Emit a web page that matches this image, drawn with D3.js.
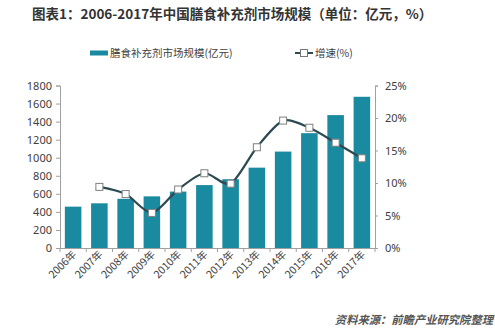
<!DOCTYPE html>
<html><head><meta charset="utf-8">
<script src="https://cdn.jsdelivr.net/npm/d3@7"></script>
<style>
body{margin:0;background:#fff;}
svg{display:block;font-family:"Noto Sans CJK SC","Noto Sans",sans-serif;}
</style></head>
<body>
<svg id="c" width="495" height="335"></svg>
<script>
const years = ["2006年","2007年","2008年","2009年","2010年","2011年","2012年","2013年","2014年","2015年","2016年","2017年"];
const marketSize = [458, 495, 545, 572, 625, 697, 762, 890, 1068, 1272, 1472, 1675];
const growth = [null, 9.4, 8.3, 5.4, 9.0, 11.5, 9.9, 15.5, 19.6, 18.5, 16.2, 13.8];
const leftTicks = [0,200,400,600,800,1000,1200,1400,1600,1800];
const rightTicks = [0,5,10,15,20,25];
const titleText = "图表1：2006-2017年中国膳食补充剂市场规模（单位：亿元，%）";
const sourceText = "资料来源：前瞻产业研究院整理";
const legendBar = "膳食补充剂市场规模(亿元)";
const legendLine = "增速(%)";

const svg = d3.select("#c");
const L = 60, R = 375, T = 85.5, B = 248;
const barColor = "#1a8aa0", lineColor = "#2b4a52", axisColor = "#a0a0a0", textColor = "#404040";

const x = d3.scaleBand().domain(years).range([L, R]).paddingInner(0.37).paddingOuter(0.185);
const yL = d3.scaleLinear().domain([0,1800]).range([B, T]);
const yR = d3.scaleLinear().domain([0,25]).range([B, T]);

// title
svg.append("text").attr("x", 32).attr("y", 19).attr("font-size", 13.5).attr("font-weight", "bold")
  .attr("fill", "#333").text(titleText);

// legend
svg.append("rect").attr("x", 90).attr("y", 50.5).attr("width", 18).attr("height", 5).attr("fill", barColor);
svg.append("text").attr("x", 110).attr("y", 57).attr("font-size", 10.5).attr("fill", textColor).text(legendBar);
svg.append("line").attr("x1", 295).attr("x2", 313).attr("y1", 53).attr("y2", 53).attr("stroke", lineColor).attr("stroke-width", 2);
svg.append("rect").attr("x", 300.5).attr("y", 49.5).attr("width", 7).attr("height", 7).attr("fill", "#fff").attr("stroke", "#777");
svg.append("text").attr("x", 315).attr("y", 57).attr("font-size", 10.5).attr("fill", textColor).text(legendLine);

// bars
svg.append("g").selectAll("rect").data(marketSize).join("rect")
  .attr("x", (d,i) => x(years[i])).attr("width", x.bandwidth())
  .attr("y", d => yL(d)).attr("height", d => B - yL(d)).attr("fill", barColor);

// left axis
const gL = svg.append("g").attr("transform", `translate(${L},0)`)
  .call(d3.axisLeft(yL).tickValues(leftTicks).tickSize(4).tickPadding(4).tickFormat(d3.format("d")));
// right axis
const gR = svg.append("g").attr("transform", `translate(${R},0)`)
  .call(d3.axisRight(yR).tickValues(rightTicks).tickSize(3).tickPadding(7).tickFormat(d => d + "%"));
// bottom axis
const gB = svg.append("g").attr("transform", `translate(0,${B})`)
  .call(d3.axisBottom(x).tickSize(0).tickFormat(""));
// boundary ticks on bottom
svg.append("g").selectAll("line").data(d3.range(years.length + 1)).join("line")
  .attr("x1", i => L + i * (R - L) / years.length)
  .attr("x2", i => L + i * (R - L) / years.length)
  .attr("y1", B).attr("y2", B + 4).attr("stroke", axisColor);

[gL, gR, gB].forEach(g => {
  g.select(".domain").attr("stroke", axisColor);
  g.selectAll(".tick line").attr("stroke", axisColor);
  g.selectAll(".tick text").attr("fill", textColor).attr("font-size", 11)
    .attr("font-family", "'Noto Sans','Noto Sans CJK SC',sans-serif");
});

// x labels
svg.append("g").selectAll("text").data(years).join("text")
  .attr("transform", d => `translate(${x(d) + x.bandwidth()/2 + 4},${B + 7}) rotate(-45)`)
  .attr("text-anchor", "end").attr("font-size", 10.5).attr("fill", textColor).text(d => d);

// line
const pts = growth.map((g,i) => g == null ? null : [x(years[i]) + x.bandwidth()/2, yR(g)]).filter(p => p);
svg.append("path").attr("d", d3.line().curve(d3.curveCardinal.tension(0.2))(pts))
  .attr("fill", "none").attr("stroke", lineColor).attr("stroke-width", 2.2);
svg.append("g").selectAll("rect").data(pts).join("rect")
  .attr("x", p => p[0] - 3.5).attr("y", p => p[1] - 3.5).attr("width", 7).attr("height", 7)
  .attr("fill", "#fff").attr("stroke", "#808080").attr("stroke-width", 1);

// source
svg.append("text").attr("x", 493).attr("y", 324).attr("text-anchor", "end").attr("font-size", 11.3)
  .attr("font-style", "italic").attr("font-weight", "bold").attr("fill", "#555").text(sourceText);
</script>
</body></html>
